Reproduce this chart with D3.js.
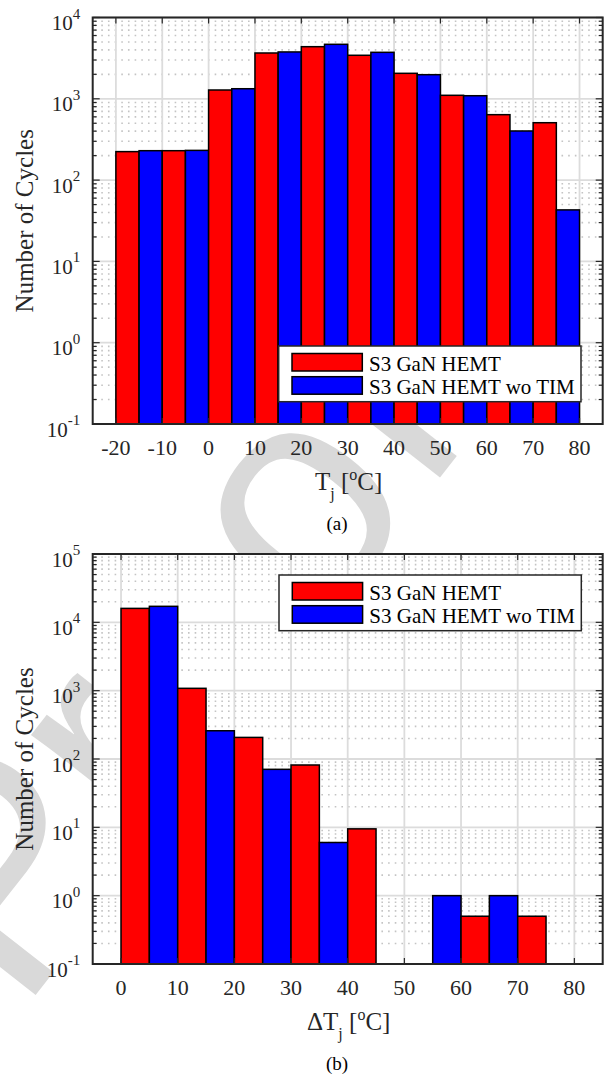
<!DOCTYPE html>
<html>
<head>
<meta charset="utf-8">
<script src="https://cdn.jsdelivr.net/npm/d3@7"></script>
<style>
  body { margin: 0; background: #fff; }
  svg { display: block; }
</style>
</head>
<body>
<div id="chart"></div>
<script>
// Chart data
const seriesNames = ["S3 GaN HEMT", "S3 GaN HEMT wo TIM"];
const seriesColors = ["#ff0000", "#0000ff"];

// (a) junction temperature histogram, bins of 10 degC split in two halves
const tjBinStarts = [-20, -10, 0, 10, 20, 30, 40, 50, 60, 70];
const tjRed  = [224, 230, 1283, 3660, 4375, 3430, 2058, 1104, 638, 508];
const tjBlue = [230, 232, 1330, 3770, 4680, 3730, 1980, 1091, 402, 43];
const tjTicks = [-20, -10, 0, 10, 20, 30, 40, 50, 60, 70, 80];

// (b) junction temperature swing histogram (0 = empty bin)
const dtjBinStarts = [0, 10, 20, 30, 40, 50, 60, 70];
const dtjRed  = [16000, 1082, 207, 81.7, 9.5, 0, 0.5, 0.5];
const dtjBlue = [17150, 259, 70.6, 6.0, 0, 1.0, 1.0, 0];
const dtjTicks = [0, 10, 20, 30, 40, 50, 60, 70, 80];

const width = 610, height = 1076;
const serif = "'Liberation Serif', 'Times New Roman', serif";
const axisColor = "#262626";

const svg = d3.select("#chart").append("svg")
    .attr("width", width)
    .attr("height", height);

// "Proof" watermark sits behind the white axes
svg.append("text")
    .attr("transform", "translate(20,1015) rotate(-52)")
    .attr("font-family", "'Liberation Sans', Arial, sans-serif")
    .attr("font-size", 310)
    .attr("fill", "#d9d9d9")
    .text("Proof");

function drawPanel(cfg) {
    const x = d3.scaleLinear().domain(cfg.xDomain).range([cfg.left, cfg.right]);
    const y = d3.scaleLog().domain(cfg.yDomain).range([cfg.bottom, cfg.top]);
    const g = svg.append("g");

    g.append("rect")
        .attr("x", cfg.left).attr("y", cfg.top)
        .attr("width", cfg.right - cfg.left).attr("height", cfg.bottom - cfg.top)
        .attr("fill", "#fff");

    const lo = Math.round(Math.log10(cfg.yDomain[0]));
    const hi = Math.round(Math.log10(cfg.yDomain[1]));
    const majors = d3.range(lo, hi + 1).map(e => Math.pow(10, e));
    const minors = [];
    d3.range(lo, hi).forEach(e => {
        for (let k = 2; k <= 9; k++) minors.push(k * Math.pow(10, e));
    });

    // minor grid (dotted)
    g.append("g").selectAll("line").data(minors).join("line")
        .attr("x1", cfg.left).attr("x2", cfg.right)
        .attr("y1", d => y(d)).attr("y2", d => y(d))
        .attr("stroke", "#c4c4c4")
        .attr("stroke-width", 1.6)
        .attr("stroke-dasharray", "1.6,5.07")
        .attr("stroke-dashoffset", -1.9);

    // major grid
    g.append("g").selectAll("line").data(majors).join("line")
        .attr("x1", cfg.left).attr("x2", cfg.right)
        .attr("y1", d => y(d)).attr("y2", d => y(d))
        .attr("stroke", "#dcdcdc").attr("stroke-width", 1.8);
    g.append("g").selectAll("line").data(cfg.xTicks).join("line")
        .attr("x1", d => x(d)).attr("x2", d => x(d))
        .attr("y1", cfg.top).attr("y2", cfg.bottom)
        .attr("stroke", "#dcdcdc").attr("stroke-width", 1.8);

    // bars: first series on left half of each bin, second on right half
    const bars = [];
    cfg.binStarts.forEach((s, i) => {
        bars.push({ x0: s, x1: s + 5, v: cfg.red[i], c: seriesColors[0] });
        bars.push({ x0: s + 5, x1: s + 10, v: cfg.blue[i], c: seriesColors[1] });
    });
    g.append("g").selectAll("rect").data(bars.filter(d => d.v > 0)).join("rect")
        .attr("x", d => x(d.x0))
        .attr("width", d => x(d.x1) - x(d.x0))
        .attr("y", d => y(d.v))
        .attr("height", d => y(cfg.yDomain[0]) - y(d.v))
        .attr("fill", d => d.c)
        .attr("stroke", "#000")
        .attr("stroke-width", 1.5);

    // ticks
    const tk = g.append("g").attr("stroke", axisColor).attr("stroke-width", 1.2);
    cfg.xTicks.forEach(t => {
        tk.append("line").attr("x1", x(t)).attr("x2", x(t)).attr("y1", cfg.top).attr("y2", cfg.top + 6);
        tk.append("line").attr("x1", x(t)).attr("x2", x(t)).attr("y1", cfg.bottom).attr("y2", cfg.bottom - 6);
    });
    majors.forEach(v => {
        tk.append("line").attr("x1", cfg.left).attr("x2", cfg.left + 7).attr("y1", y(v)).attr("y2", y(v));
        tk.append("line").attr("x1", cfg.right).attr("x2", cfg.right - 7).attr("y1", y(v)).attr("y2", y(v));
    });
    minors.forEach(v => {
        tk.append("line").attr("x1", cfg.left).attr("x2", cfg.left + 4).attr("y1", y(v)).attr("y2", y(v));
        tk.append("line").attr("x1", cfg.right).attr("x2", cfg.right - 4).attr("y1", y(v)).attr("y2", y(v));
    });

    // axes box
    g.append("rect")
        .attr("x", cfg.left).attr("y", cfg.top)
        .attr("width", cfg.right - cfg.left).attr("height", cfg.bottom - cfg.top)
        .attr("fill", "none").attr("stroke", axisColor).attr("stroke-width", 2);

    // x tick labels
    g.append("g").selectAll("text").data(cfg.xTicks).join("text")
        .attr("x", d => x(d)).attr("y", cfg.bottom + 31)
        .attr("text-anchor", "middle")
        .attr("font-family", serif).attr("font-size", 22).attr("fill", "#262626")
        .text(d => d);

    // y tick labels 10^n
    majors.forEach(v => {
        const e = Math.round(Math.log10(v));
        const t = g.append("text")
            .attr("x", cfg.left - 12.5).attr("y", y(v) + 12.5)
            .attr("text-anchor", "end")
            .attr("font-family", serif).attr("font-size", 21).attr("fill", "#262626");
        t.append("tspan").text("10");
        t.append("tspan").attr("font-size", 15).attr("dy", -11.5).text(e);
    });

    // y axis label
    g.append("text")
        .attr("transform", `translate(33,${(cfg.top + cfg.bottom) / 2}) rotate(-90)`)
        .attr("text-anchor", "middle")
        .attr("font-family", serif).attr("font-size", 25).attr("fill", "#262626")
        .text("Number of Cycles");

    // x axis label: [Δ]T_j [°C]
    const xl = g.append("text")
        .attr("x", (cfg.left + cfg.right) / 2 + 1).attr("y", cfg.bottom + 66)
        .attr("text-anchor", "middle")
        .attr("font-family", serif).attr("font-size", 25).attr("fill", "#262626");
    xl.append("tspan").text(cfg.xPrefix + "T");
    xl.append("tspan").attr("font-size", 16).attr("dy", 9).text("j");
    xl.append("tspan").attr("dy", -9).text(" [");
    xl.append("tspan").attr("font-size", 16).attr("dy", -10).text("o");
    xl.append("tspan").attr("dy", 10).text("C]");

    // caption
    g.append("text")
        .attr("x", 337).attr("y", cfg.bottom + 106)
        .attr("text-anchor", "middle")
        .attr("font-family", serif).attr("font-size", 19).attr("fill", "#000")
        .text(cfg.caption);

    // legend
    const lg = g.append("g").attr("transform", `translate(${cfg.legend[0]},${cfg.legend[1]})`);
    lg.append("rect").attr("width", 302.3).attr("height", 55.7)
        .attr("fill", "#fff").attr("stroke", axisColor).attr("stroke-width", 1.5);
    seriesNames.forEach((name, i) => {
        lg.append("rect")
            .attr("x", 13.3).attr("y", 7.5 + i * 23.2)
            .attr("width", 70.3).attr("height", 17.5)
            .attr("fill", seriesColors[i]).attr("stroke", "#000").attr("stroke-width", 1.5);
        lg.append("text")
            .attr("x", 90.3).attr("y", 24.6 + i * 23)
            .attr("font-family", serif).attr("font-size", 21).attr("fill", "#000")
            .text(name);
    });
}

drawPanel({
    top: 17.5, bottom: 424, left: 92.7, right: 602.7,
    xDomain: [-25, 85], yDomain: [0.1, 1e4],
    xTicks: tjTicks, binStarts: tjBinStarts, red: tjRed, blue: tjBlue,
    xPrefix: "", caption: "(a)", legend: [278.7, 346]
});

drawPanel({
    top: 554, bottom: 964, left: 92.7, right: 602.7,
    xDomain: [-5, 85], yDomain: [0.1, 1e5],
    xTicks: dtjTicks, binStarts: dtjBinStarts, red: dtjRed, blue: dtjBlue,
    xPrefix: "\u0394", caption: "(b)", legend: [279, 575]
});
</script>
</body>
</html>
